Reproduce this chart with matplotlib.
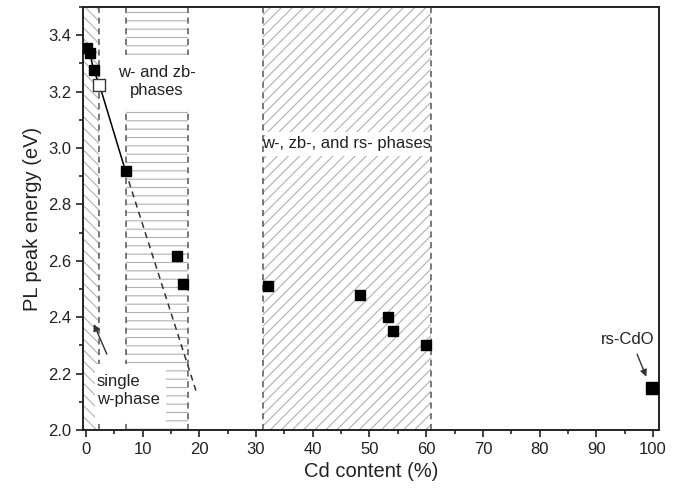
import matplotlib.pyplot as plt
from matplotlib.patches import Rectangle
from matplotlib.ticker import MultipleLocator

plt.rcParams['font.family'] = ['Liberation Sans', 'DejaVu Sans']

# datos
cd = [0.2, 0.7, 1.4, 7.0, 16.1, 17.1, 32.1, 48.3, 53.3, 54.2, 60.0]
pl = [3.355, 3.337, 3.275, 2.918, 2.617, 2.517, 2.51, 2.48, 2.40, 2.35, 2.30]
cd_open = [2.4]
pl_open = [3.224]
cd_rs = [99.9]
pl_rs = [2.15]
# tramo solido y extrapolacion
cd_line = [0.2, 0.7, 1.4, 2.4, 7.0]
pl_line = [3.355, 3.337, 3.275, 3.224, 2.918]
cd_ext = [7.0, 19.4]
pl_ext = [2.918, 2.14]
# limites de fases
limites = [2.3, 7.0, 18.1, 31.3, 60.8]

fig = plt.figure(figsize=(6.77, 4.98), dpi=100)
ax = fig.add_axes([0.1226, 0.1365, 0.8508, 0.8495])

plt.rcParams['hatch.linewidth'] = 0.8
hc = '#b0b0b0'
ax.axvspan(-0.5, limites[0], facecolor='none', edgecolor=hc, hatch='\\\\\\', lw=0, zorder=0.5)
ax.axvspan(limites[1], limites[2], facecolor='none', edgecolor=hc, hatch='--', lw=0, zorder=0.5)
ax.axvspan(limites[3], limites[4], facecolor='none', edgecolor=hc, hatch='///', lw=0, zorder=0.5)

for xl in limites:
    ax.axvline(xl, color='#555555', lw=1.1, ls=(0, (4, 3)), zorder=1)

# huecos blancos para los textos
ax.add_patch(Rectangle((6.6, 3.14), 12.0, 0.19, facecolor='white', edgecolor='none', zorder=1.5))
ax.add_patch(Rectangle((1.7, 2.03), 12.4, 0.205, facecolor='white', edgecolor='none', zorder=1.5))
ax.add_patch(Rectangle((limites[3] + 0.2, 2.973), limites[4] - limites[3] - 0.4, 0.083,
                       facecolor='white', edgecolor='none', zorder=0.8))

ax.plot(cd_line, pl_line, color='black', lw=1.1, zorder=2)
ax.plot(cd_ext, pl_ext, color='#333333', lw=1.1, ls=(0, (4, 3)), zorder=2)
ax.plot(cd, pl, 's', color='black', ms=6.5, zorder=3)
ax.plot(cd_open, pl_open, 's', mfc='white', mec='#333333', mew=1.0, ms=8, zorder=3)
ax.plot(cd_rs, pl_rs, 's', color='black', ms=8.5, zorder=3, clip_on=False)

ax.text(12.5, 3.235, 'w- and zb-\nphases', ha='center', va='center', fontsize=12,
        linespacing=1.25, color='#222222', zorder=4)
ax.text(46.0, 3.015, 'w-, zb-, and rs- phases', ha='center', va='center', fontsize=12,
        color='#222222', zorder=4)
ax.text(1.9, 2.14, 'single\nw-phase', ha='left', va='center', fontsize=12,
        linespacing=1.25, color='#222222', zorder=4)
ax.annotate('', xy=(1.2, 2.385), xytext=(3.9, 2.26),
            arrowprops=dict(arrowstyle='-|>', color='#333333', lw=1.0, mutation_scale=10), zorder=4)
ax.text(95.6, 2.32, 'rs-CdO', ha='center', va='center', fontsize=12, color='#222222')
ax.annotate('', xy=(99.0, 2.18), xytext=(97.0, 2.278),
            arrowprops=dict(arrowstyle='-|>', color='#333333', lw=1.0, mutation_scale=10))

ax.set_xlim(-0.5, 101.05)
ax.set_ylim(2.0, 3.5)
ax.xaxis.set_major_locator(MultipleLocator(10))
ax.xaxis.set_minor_locator(MultipleLocator(5))
ax.yaxis.set_major_locator(MultipleLocator(0.2))
ax.yaxis.set_minor_locator(MultipleLocator(0.1))
ax.yaxis.set_major_formatter(plt.FormatStrFormatter('%.1f'))
ax.tick_params(which='both', direction='out', top=False, right=False, width=1.2, labelsize=12,
               colors='#222222')
ax.tick_params(which='major', length=5)
ax.tick_params(which='minor', length=3)
for s in ax.spines.values():
    s.set_linewidth(1.4)
    s.set_color('#222222')

ax.set_xlabel('Cd content (%)', fontsize=14.5, color='#222222')
ax.set_ylabel('PL peak energy (eV)', fontsize=14.5, color='#222222')

plt.savefig('out.png', dpi=100)
plt.close()
